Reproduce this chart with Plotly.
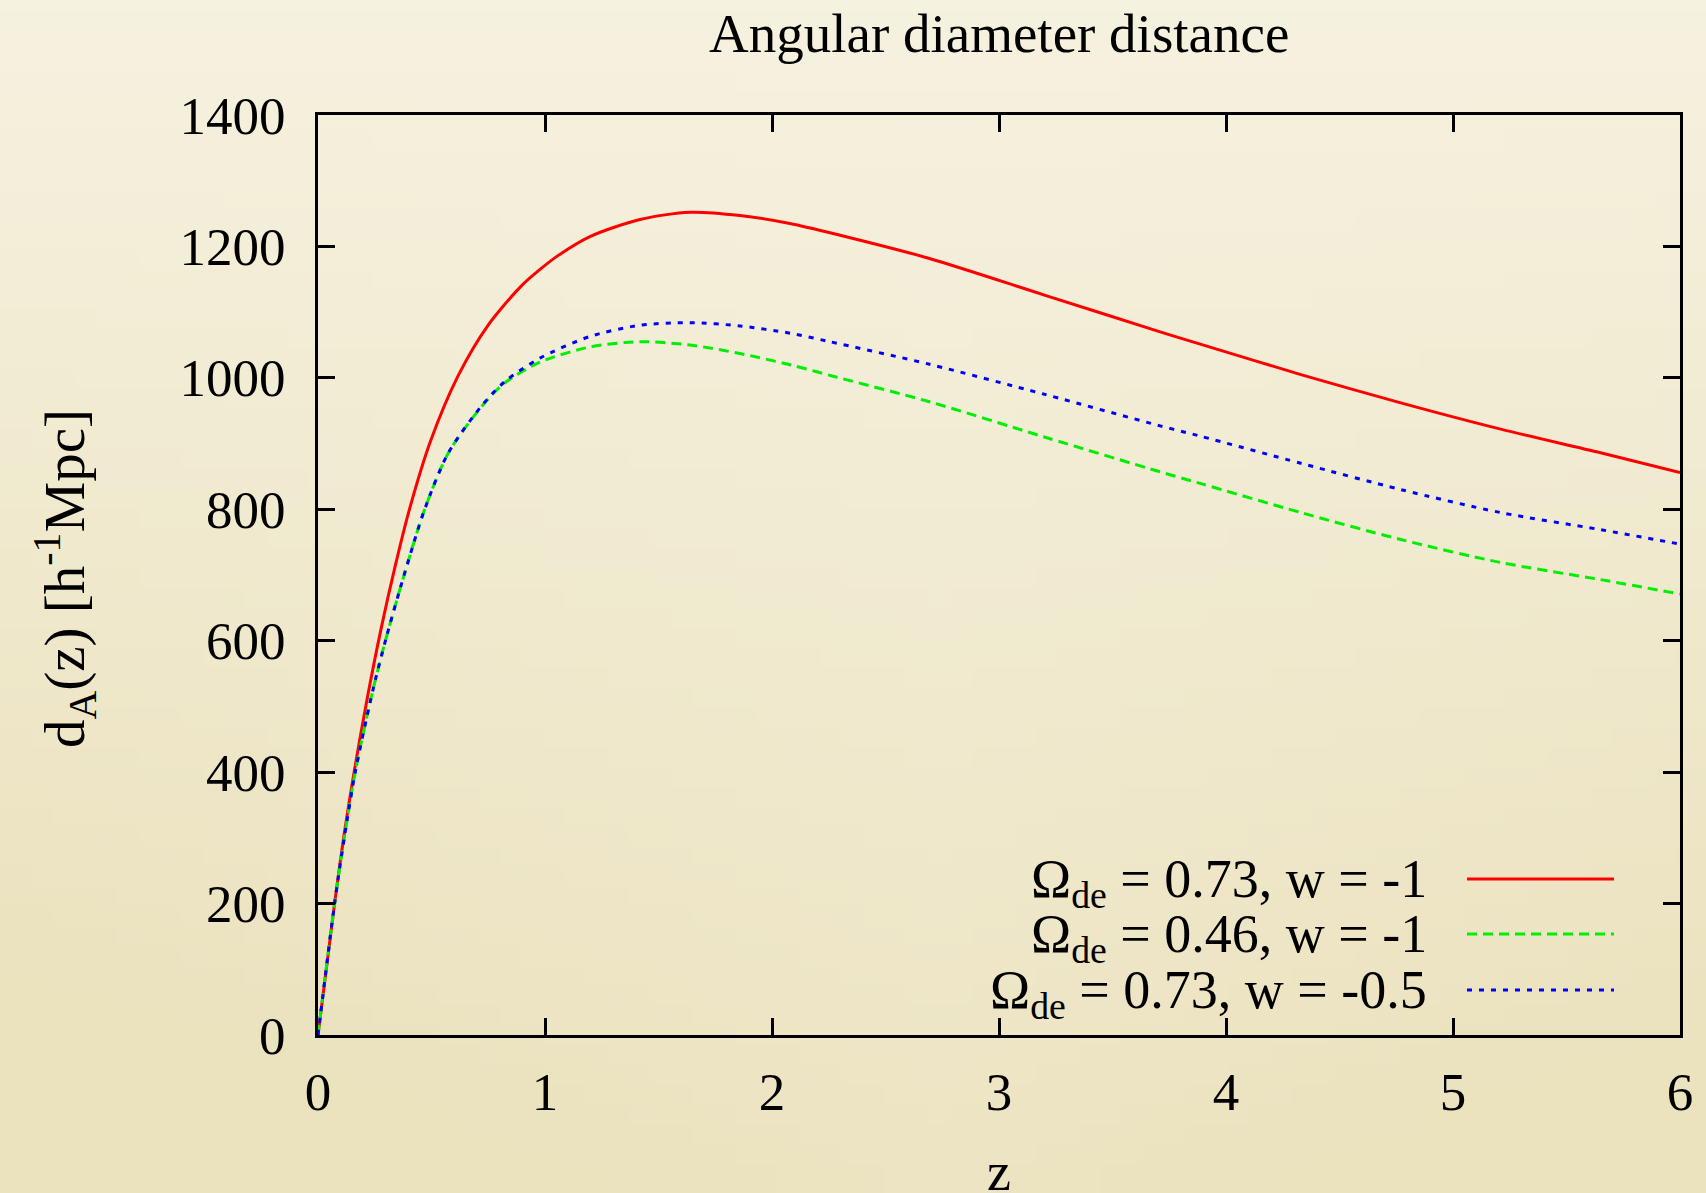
import base64, struct, zlib
import plotly.graph_objects as go

# ---------------- data ----------------
z_red = [0, 0.073, 0.115, 0.159, 0.22, 0.279, 0.341, 0.399, 0.495, 0.617, 0.749,
         0.896, 0.978, 1.057, 1.198, 1.418, 1.639, 1.859, 2.079, 2.30, 2.69, 3.20,
         3.71, 3.89, 4.33, 4.77, 5.21, 5.65, 6.00]
d_red = [0, 200, 305, 400, 518, 620, 715, 795, 903, 1003, 1080,
         1140, 1165, 1186, 1215, 1241, 1252, 1247, 1235, 1217, 1182, 1126,
         1070, 1051, 1005, 962, 922, 886, 856]

z_green = [0, 0.073, 0.118, 0.164, 0.242, 0.301, 0.382, 0.47, 0.573, 0.72, 0.822,
           0.978, 1.198, 1.418, 1.639, 1.859, 2.079, 2.286, 2.69, 3.20, 3.71, 3.89,
           4.33, 4.77, 5.21, 5.65, 6.00]
d_green = [0, 200, 305, 400, 525, 605, 703, 800, 885, 956, 992,
           1024, 1047, 1055, 1050, 1037, 1020, 1001, 964, 910, 857, 839,
           795, 754, 719, 693, 671]

z_blue = [0, 0.073, 0.118, 0.164, 0.242, 0.301, 0.382, 0.47, 0.573, 0.72, 0.822,
          0.978, 1.198, 1.418, 1.639, 1.859, 2.079, 2.255, 2.69, 3.20, 3.71, 3.89,
          4.33, 4.77, 5.21, 5.65, 6.00]
d_blue = [0, 200, 305, 400, 525, 605, 703, 800, 885, 957, 994,
          1030, 1063, 1080, 1084, 1079, 1068, 1055, 1021, 975, 927, 911,
          870, 830, 795, 769, 747]

series_names = ["Ω<sub>de</sub> = 0.73, w = -1",
                "Ω<sub>de</sub> = 0.46, w = -1",
                "Ω<sub>de</sub> = 0.73, w = -0.5"]
x_ticks = [0, 1, 2, 3, 4, 5, 6]
y_ticks = [0, 200, 400, 600, 800, 1000, 1200, 1400]

# ---------------- geometry ----------------
W, H = 1706, 1193
L, R, T, B = 318, 1680, 115, 1035
PW, PH = R - L, B - T


def px(xp):
    return (xp - L) / PW


def py(yp):
    return (B - yp) / PH


FONT = "Liberation Serif, Times New Roman, serif"

# ---------------- background gradient image ----------------
def make_bg(w=80, h=60):
    top = (246, 242, 224)
    bot = (235, 226, 190)
    raw = b""
    for j in range(h):
        t = j / (h - 1)
        raw += b"\x00"
        for i in range(w):
            s = i / (w - 1)
            edge = abs(s - 0.55) * 0.6
            k = min(1.0, t * 0.85 + edge * t)
            r = int(top[0] * (1 - k) + bot[0] * k)
            g = int(top[1] * (1 - k) + bot[1] * k)
            b = int(top[2] * (1 - k) + bot[2] * k)
            raw += bytes((r, g, b))

    def chunk(tag, data):
        c = struct.pack(">I", len(data)) + tag + data
        return c + struct.pack(">I", zlib.crc32(tag + data) & 0xffffffff)

    png = b"\x89PNG\r\n\x1a\n"
    png += chunk(b"IHDR", struct.pack(">IIBBBBB", w, h, 8, 2, 0, 0, 0))
    png += chunk(b"IDAT", zlib.compress(raw, 9))
    png += chunk(b"IEND", b"")
    return "data:image/png;base64," + base64.b64encode(png).decode()


fig = go.Figure()

styles = [dict(color="#ff0000", width=3, dash="solid"),
          dict(color="#00ee00", width=3, dash="10px,6px"),
          dict(color="#0000ff", width=3, dash="5px,7px")]
data = [(z_red, d_red), (z_green, d_green), (z_blue, d_blue)]

for (zz, dd), st, nm in zip(data, styles, series_names):
    fig.add_trace(go.Scatter(x=zz, y=dd, mode="lines", name=nm,
                             line=dict(color=st["color"], width=st["width"],
                                       dash=st["dash"], shape="spline", smoothing=0.8),
                             showlegend=False))

# ---------------- manual gnuplot-style key ----------------
key_rows = [879, 934, 990]
annotations = []
shapes = []
for nm, st, yrow in zip(series_names, styles, key_rows):
    annotations.append(dict(text=nm, xref="paper", yref="paper",
                            x=px(1429), y=py(yrow + 3), xanchor="right", yanchor="middle",
                            showarrow=False, font=dict(family=FONT, size=54, color="black")))
    shapes.append(dict(type="line", xref="paper", yref="paper",
                       x0=px(1467), x1=px(1614), y0=py(yrow), y1=py(yrow),
                       line=dict(color=st["color"], width=st["width"], dash=st["dash"])))

# title
annotations.append(dict(text="Angular diameter distance", xref="paper", yref="paper",
                        x=0.5, y=py(34), xanchor="center", yanchor="middle",
                        showarrow=False, font=dict(family=FONT, size=55, color="black")))
# axis titles
annotations.append(dict(text="d<sub>A</sub>(z) [h<sup>-1</sup>Mpc]", xref="paper", yref="paper",
                        x=px(64), y=py(579), xanchor="center", yanchor="middle", textangle=-90,
                        showarrow=False, font=dict(family=FONT, size=57, color="black")))
annotations.append(dict(text="z", xref="paper", yref="paper",
                        x=0.5, y=py(1172), xanchor="center", yanchor="middle",
                        showarrow=False, font=dict(family=FONT, size=54, color="black")))

axis_common = dict(showgrid=False, zeroline=False, showline=True, linecolor="black",
                   linewidth=3, mirror="allticks", ticks="inside", ticklen=17,
                   tickwidth=2.5, tickcolor="black",
                   tickfont=dict(family=FONT, size=53, color="black"))

fig.update_layout(
    width=W, height=H,
    margin=dict(l=L, r=W - R, t=T, b=H - B, pad=0),
    paper_bgcolor="#f0ead0",
    plot_bgcolor="rgba(0,0,0,0)",
    xaxis=dict(range=[0, 6], tickvals=x_ticks, ticklabelstandoff=8, **axis_common),
    yaxis=dict(range=[0, 1400], tickvals=y_ticks, ticklabelstandoff=19, **axis_common),
    annotations=annotations,
    shapes=shapes,
    images=[dict(source=make_bg(), xref="paper", yref="paper",
                 x=px(0), y=py(0), sizex=W / PW, sizey=H / PH,
                 xanchor="left", yanchor="top", sizing="stretch", layer="below")],
    showlegend=False,
)

fig.write_html("out.html")
